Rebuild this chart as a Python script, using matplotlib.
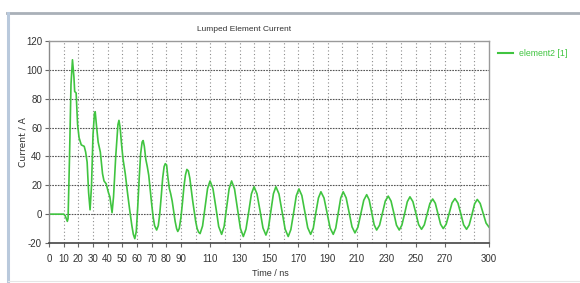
import matplotlib
matplotlib.use("Agg")
import matplotlib.pyplot as plt
from matplotlib.lines import Line2D

plt.rcParams['font.family'] = ['Liberation Sans Narrow', 'Liberation Sans', 'DejaVu Sans']
plt.rcParams['font.stretch'] = 'condensed'

title = "Lumped Element Current"
xlabel = "Time / ns"
ylabel = "Current / A"
series_name = "element2 [1]"

xticks = [0, 10, 20, 30, 40, 50, 60, 70, 80, 90, 110, 130, 150, 170, 190, 210, 230, 250, 270, 300]
yticks = [-20, 0, 20, 40, 60, 80, 100, 120]

time_ns = [0, 10, 11, 12.5, 13, 14, 15, 16, 17, 17.5, 18.5, 19.5, 20.5, 22, 24, 25, 26, 27, 28,
           29, 30, 31, 31.5, 32.5, 33.5, 35, 36.5, 37.5, 39, 40.5, 41.5, 43,
           44, 45.5, 47, 47.7, 48.5, 49.5, 50.5, 52, 53.5, 55, 56.5, 57.5, 58.5,
           59.5, 60.5, 61.5, 62.5, 63.5, 64.2, 65, 66, 67, 68, 69, 70, 71, 72, 73.4,
           74.5, 75.5, 76.5, 77.5, 78.5, 79.3, 80.2, 81, 82, 83, 84, 85, 86, 87, 87.8,
           88.8, 90, 91, 92, 93, 94, 95, 96, 97, 98, 99, 100, 101, 102, 103,
           104.7, 106.4, 108.1, 109.8, 111.8, 113.8, 115.7, 117.7,
           119.4, 121.1, 122.8, 124.5, 126.5, 128.5, 130.5, 132.5,
           134.3, 136.2, 138, 139.8, 141.8, 143.9, 145.9, 147.9,
           149.6, 151.3, 153, 154.7, 156.8, 158.9, 161, 163.1,
           164.9, 166.8, 168.6, 170.4, 172.4, 174.4, 176.4, 178.4,
           180.2, 181.9, 183.7, 185.4, 187.5, 189.6, 191.7, 193.8,
           195.5, 197.2, 198.9, 200.6, 202.6, 204.6, 206.6, 208.6,
           210.6, 212.6, 214.6, 216.6, 218.3, 220, 221.7, 223.4,
           225.4, 227.4, 229.3, 231.3, 233.2, 235.1, 236.9, 238.8,
           240.6, 242.5, 244.3, 246.1, 248.1, 250.1, 252, 254,
           255.9, 257.8, 259.7, 261.6, 263.4, 265.2, 267, 268.8,
           270.8, 272.8, 274.8, 276.8, 278.8, 280.8, 282.7, 284.7,
           286.5, 288.4, 290.2, 292, 294, 296, 298, 300]
current_A = [0, 0, -1, -5, -3, 40, 90, 107, 95, 85, 84, 62, 53, 48, 47, 43, 36, 15, 3,
             20, 55, 70, 71, 60, 50, 43, 28, 23, 21, 15, 12, 1,
             12, 40, 62, 65, 60, 48, 38, 28, 15, 3, -8, -14, -17,
             -12, 5, 25, 42, 50, 51, 47, 38, 33, 27, 17, 7, -2, -8, -11,
             -8, 0, 12, 25, 33, 35, 34, 26, 18, 14, 9, 2, -5, -10, -12,
             -10, -2, 8, 19, 27, 31, 30, 25, 17, 9, 2, -5, -10, -12.5, -13.5,
             -8.2, 4.8, 17.7, 23, 17.6, 4.5, -8.6, -14,
             -8.6, 4.5, 17.6, 23, 17.4, 3.8, -9.9, -15.5,
             -10.4, 1.8, 14.0, 19, 14.1, 2.3, -9.6, -14.5,
             -9.6, 2.3, 14.1, 19, 14, 1.8, -10.4, -15.5,
             -10.7, 1, 12.7, 17.5, 12.9, 1.8, -9.4, -14,
             -9.7, 0.8, 11.2, 15.5, 11.2, 0.8, -9.7, -14,
             -9.7, 0.8, 11.2, 15.5, 11.3, 1.3, -8.8, -13,
             -9.1, 0.3, 9.6, 13.5, 9.9, 1.3, -7.4, -11,
             -7.6, 0.8, 9.1, 12.5, 9.1, 0.8, -7.6, -11,
             -7.6, 0.5, 8.6, 12, 8.7, 0.8, -7.2, -10.5,
             -7.4, 0, 7.4, 10.5, 7.5, 0.3, -7.0, -10,
             -7, 0.4, 7.8, 10.8, 7.7, 0.2, -7.4, -10.5,
             -7.5, -0.2, 7.2, 10.2, 7.4, 0.6, -6.2, -9]

GREEN = "#40c440"
TXT = "#333333"

fig = plt.figure(figsize=(5.8, 2.83), dpi=100)
fig.patch.set_facecolor("white")

# window frame decorations
fig.add_artist(Line2D([7/580, 1], [1 - 12.5/283, 1 - 12.5/283], transform=fig.transFigure,
                      color="#a9b0b8", lw=2.0))
fig.add_artist(Line2D([8/580, 8/580], [0, 1 - 12.5/283], transform=fig.transFigure,
                      color="#b9c9dc", lw=2.2))
fig.add_artist(Line2D([8/580, 1], [2/283, 2/283], transform=fig.transFigure,
                      color="#e6e6e6", lw=0.8))

ax = fig.add_axes([49/580, 1 - 243/283, 440/580, 202/283])
ax.plot(time_ns, current_A, color=GREEN, lw=1.2, label=series_name)

ax.set_xlim(0, 300)
ax.set_ylim(-20, 120)
ax.set_xticks(xticks)
ax.set_xticklabels([str(t) for t in xticks])
ax.set_yticks(yticks)
ax.set_yticklabels([str(t) for t in yticks])

ax.grid(False)
for xv in range(10, 300, 10):
    ax.axvline(xv, color="#8c8c8c", lw=0.8, ls=(0, (1, 2.2)), zorder=0)
for yv in range(0, 120, 20):
    ax.axhline(yv, color="#555555", lw=0.8, ls=(0, (1.5, 1)), zorder=0)

for s in ("top", "right"):
    ax.spines[s].set_color("#9a9a9a")
    ax.spines[s].set_linewidth(1.0)
ax.spines["left"].set_color("#8a8a8a")
ax.spines["left"].set_linewidth(1.0)
ax.spines["bottom"].set_color("#444444")
ax.spines["bottom"].set_linewidth(1.2)

ax.tick_params(axis="both", which="major", length=3, width=0.8, color="#666666",
               labelsize=7, labelcolor=TXT, pad=2)
ax.tick_params(axis="x", which="major", pad=5)

fig.text(244/580, 1 - 29/283, title, ha="center", va="center", fontsize=6, color=TXT)
fig.text(270/580, 1 - 274/283, xlabel, ha="center", va="center", fontsize=6.5, color=TXT)
fig.text(23/580, 1 - 142/283, ylabel, ha="center", va="center", rotation=90, fontsize=6.6,
         color=TXT, family="DejaVu Sans", stretch="normal")

# legend
fig.add_artist(Line2D([498/580, 513/580], [1 - 53/283, 1 - 53/283], transform=fig.transFigure,
                      color=GREEN, lw=1.5))
fig.text(519/580, 1 - 53/283, series_name, ha="left", va="center", fontsize=6.3, color=GREEN)

fig.savefig("out.png", dpi=100, facecolor="white")
